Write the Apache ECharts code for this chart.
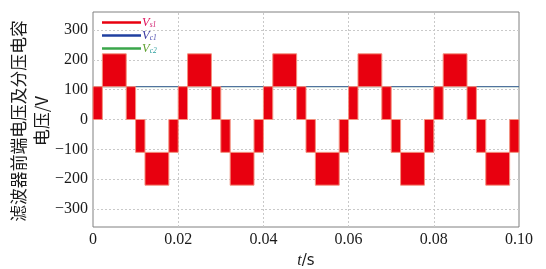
<!DOCTYPE html>
<html>
<head>
<meta charset="utf-8">
<script src="https://cdn.jsdelivr.net/npm/echarts@6/dist/echarts.min.js"></script>
<style>
html,body{margin:0;padding:0;background:#fff;}
#main{width:546px;height:269px;}
</style>
</head>
<body>
<div id="main"></div>
<script>
// Segment boundaries (s) of the switched filter-input voltage Vs1
var segStart = [0, 0.0022, 0.0078, 0.0100, 0.0122, 0.0178,
                0.0200, 0.0222, 0.0278, 0.0300, 0.0322, 0.0378,
                0.0400, 0.0422, 0.0478, 0.0500, 0.0522, 0.0578,
                0.0600, 0.0622, 0.0678, 0.0700, 0.0722, 0.0778,
                0.0800, 0.0822, 0.0878, 0.0900, 0.0922, 0.0978];
var segEnd   = [0.0022, 0.0078, 0.0100, 0.0122, 0.0178, 0.0200,
                0.0222, 0.0278, 0.0300, 0.0322, 0.0378, 0.0400,
                0.0422, 0.0478, 0.0500, 0.0522, 0.0578, 0.0600,
                0.0622, 0.0678, 0.0700, 0.0722, 0.0778, 0.0800,
                0.0822, 0.0878, 0.0900, 0.0922, 0.0978, 0.1000];
// PWM switches between these two levels inside each segment (V)
var segLow   = [0, 110, 0, -110, -220, -110,
                0, 110, 0, -110, -220, -110,
                0, 110, 0, -110, -220, -110,
                0, 110, 0, -110, -220, -110,
                0, 110, 0, -110, -220, -110];
var segHigh  = [110, 220, 110, 0, -110, 0,
                110, 220, 110, 0, -110, 0,
                110, 220, 110, 0, -110, 0,
                110, 220, 110, 0, -110, 0,
                110, 220, 110, 0, -110, 0];
// Capacitor voltages (V)
var vcTimes = [0, 0.1];
var vc1Values = [110, 110];
var vc2Values = [110, 110];
// Ticks
var xTicks = [0, 0.02, 0.04, 0.06, 0.08, 0.10];
var yTicks = [-300, -200, -100, 0, 100, 200, 300];
var yTitle = '滤波器前端电压及分压电容\n电压/V';

var segData = segStart.map(function (s, i) { return [s, segEnd[i], segLow[i], segHigh[i]]; });
var vc1Data = vcTimes.map(function (t, i) { return [t, vc1Values[i]]; });
var vc2Data = vcTimes.map(function (t, i) { return [t, vc2Values[i]]; });

var gridLineStyle = { color: '#c9c9c9', width: 1, type: [2, 2] };
var gridMarks = [];
yTicks.forEach(function (v) { gridMarks.push({ yAxis: v }); });
xTicks.slice(1, -1).forEach(function (v) { gridMarks.push({ xAxis: v }); });

var chart = echarts.init(document.getElementById('main'), null, { renderer: 'canvas' });
var serif = '"Liberation Serif", "DejaVu Serif", serif';
chart.setOption({
  animation: false,
  backgroundColor: '#ffffff',
  grid: { left: 93, right: 27, top: 12, bottom: 42, outerBoundsMode: 'none', containLabel: false, show: true, borderColor: '#808080', borderWidth: 1, backgroundColor: 'transparent' },
  graphic: [{
    type: 'text', x: 30, y: 121, rotation: Math.PI / 2, silent: true,
    style: {
      text: yTitle, align: 'center', verticalAlign: 'middle',
      fontFamily: '"Noto Sans CJK SC", sans-serif', fontSize: 16.8, lineHeight: 23, fill: '#1a1a1a'
    }
  }],
  legend: {
    left: 97, top: 11, orient: 'vertical',
    icon: 'rect', itemWidth: 39, itemHeight: 2.5, itemGap: 0,
    data: ['Vs1', 'Vc1', 'Vc2'],
    formatter: function (n) {
      var k = n === 'Vs1' ? 'r' : (n === 'Vc1' ? 'b' : 'g');
      return '{v' + k + '|V}{s' + k + '|' + n.slice(1) + '}';
    },
    textStyle: {
      padding: [0, 0, 0, -4],
      rich: {
        vr: { fontFamily: serif, fontStyle: 'italic', fontSize: 12.5, color: '#e0105a', lineHeight: 11.7 },
        sr: { fontFamily: serif, fontStyle: 'italic', fontSize: 7.5, color: '#d02070', padding: [5, 0, 0, 0], lineHeight: 11.7 },
        vb: { fontFamily: serif, fontStyle: 'italic', fontSize: 12.5, color: '#3a3aa0', lineHeight: 11.7 },
        sb: { fontFamily: serif, fontStyle: 'italic', fontSize: 7.5, color: '#5050b0', padding: [5, 0, 0, 0], lineHeight: 11.7 },
        vg: { fontFamily: serif, fontStyle: 'italic', fontSize: 12.5, color: '#60a030', lineHeight: 11.7 },
        sg: { fontFamily: serif, fontStyle: 'italic', fontSize: 7.5, color: '#30a0a0', padding: [5, 0, 0, 0], lineHeight: 11.7 }
      }
    }
  },
  xAxis: {
    type: 'value', min: 0, max: 0.1, interval: 0.02,
    axisLine: { show: false }, axisTick: { show: false }, splitLine: { show: false },
    axisLabel: {
      margin: 5, color: '#1a1a1a', fontFamily: serif, fontSize: 16,
      formatter: function (v) { return v === 0 ? '0' : v.toFixed(2); }
    },
    name: '{t|t}{s|/s}', nameLocation: 'middle', nameGap: 20,
    nameTextStyle: {
      rich: {
        t: { fontFamily: serif, fontStyle: 'italic', fontSize: 16, color: '#1a1a1a' },
        s: { fontFamily: '"DejaVu Sans", sans-serif', fontSize: 15, color: '#1a1a1a' }
      }
    }
  },
  yAxis: {
    type: 'value', min: -360, max: 360,
    axisLine: { show: false }, axisTick: { show: false }, splitLine: { show: false },
    axisLabel: {
      customValues: yTicks, margin: 5, color: '#1a1a1a', fontFamily: serif, fontSize: 16,
      formatter: function (v) { return String(v).replace('-', '\u2212'); }
    }
  },
  series: [
    {
      name: 'grid', type: 'line', data: [], silent: true, z: 1,
      markLine: { silent: true, z: 1, symbol: 'none', label: { show: false }, lineStyle: gridLineStyle, animation: false, data: gridMarks }
    },
    {
      name: 'Vc2', type: 'line', data: vc2Data, symbol: 'none', z: 2,
      lineStyle: { color: '#3aa64a', width: 1 }, itemStyle: { color: '#3aa64a' }
    },
    {
      name: 'Vc1', type: 'line', data: vc1Data, symbol: 'none', z: 3,
      lineStyle: { color: '#5068a8', width: 1 }, itemStyle: { color: '#2040a0' }
    },
    {
      name: 'Vs1', type: 'custom', data: segData, z: 4,
      encode: { x: [0, 1], y: [2, 3] },
      itemStyle: { color: '#e8000f' },
      renderItem: function (params, api) {
        var p0 = api.coord([api.value(0), api.value(3)]);
        var p1 = api.coord([api.value(1), api.value(2)]);
        return {
          type: 'rect',
          shape: { x: p0[0], y: p0[1], width: p1[0] - p0[0], height: p1[1] - p0[1] },
          style: { fill: '#e8000f', stroke: '#f3907e', lineWidth: 1 }
        };
      }
    }
  ]
});
</script>
</body>
</html>
